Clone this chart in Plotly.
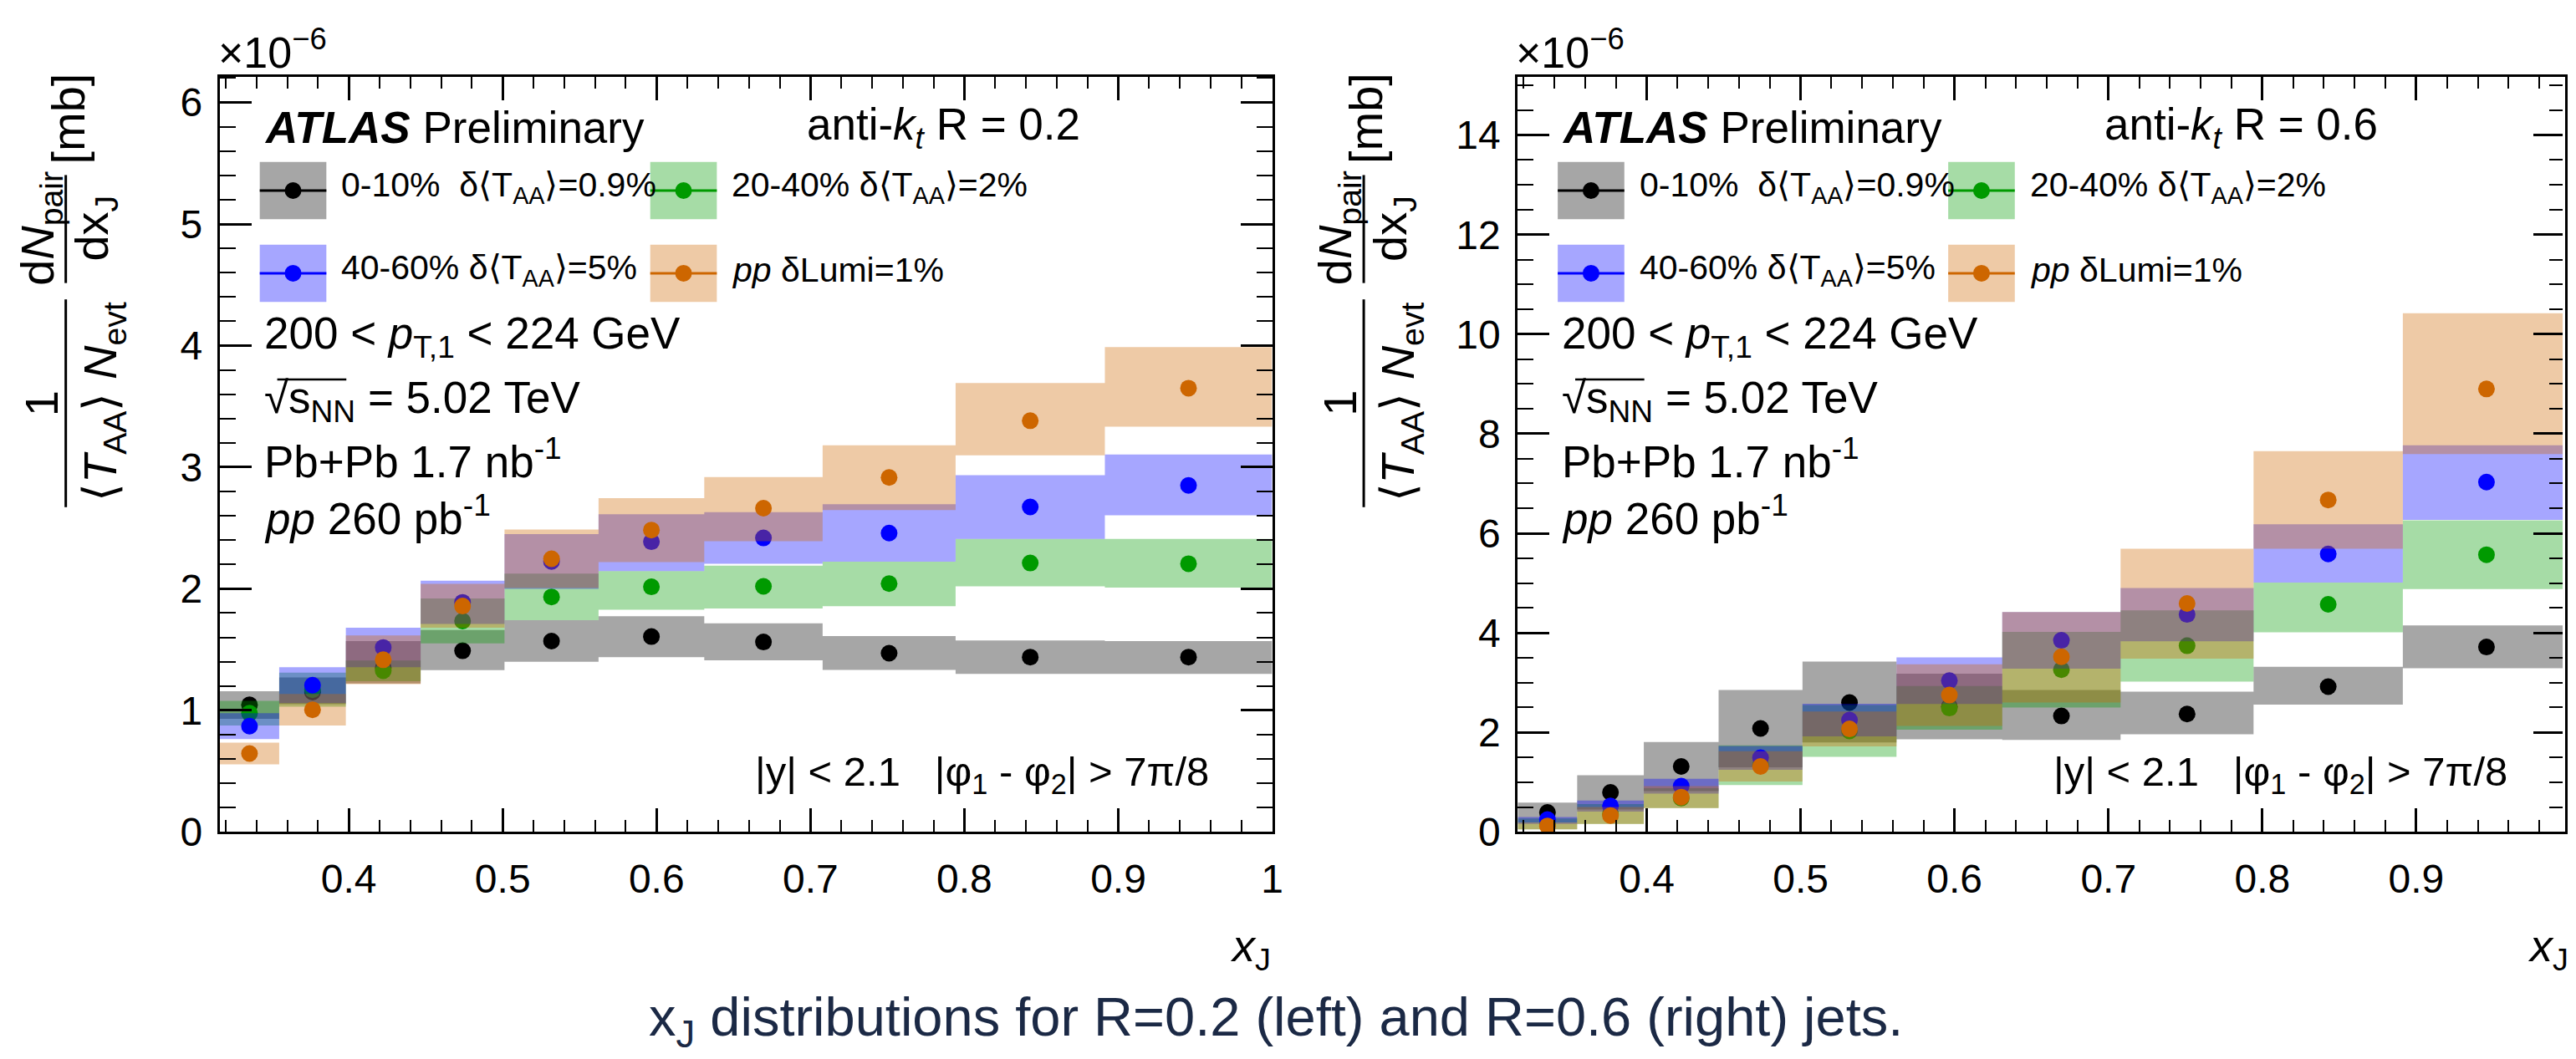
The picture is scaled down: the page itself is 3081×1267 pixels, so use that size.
import plotly.graph_objects as go

# ---------------- data (values in units of 1e-6 mb) ----------------
bin_edges = [0.3162, 0.3548, 0.3981, 0.4467, 0.5012, 0.5623, 0.6310, 0.7079, 0.7943, 0.8913, 1.0]

# R = 0.2 panel
r02_c0010 = [1.045, 1.15, 1.35, 1.49, 1.57, 1.607, 1.562, 1.47, 1.438, 1.438]
r02_c0010_lo = [0.93, 1.05, 1.22, 1.33, 1.40, 1.438, 1.412, 1.333, 1.30, 1.30]
r02_c0010_hi = [1.157, 1.27, 1.57, 1.66, 1.742, 1.775, 1.716, 1.611, 1.575, 1.569]
r02_c2040 = [0.977, 1.17, 1.326, 1.735, 1.933, 2.016, 2.02, 2.042, 2.212, 2.206]
r02_c2040_lo = [0.875, 1.03, 1.24, 1.551, 1.742, 1.827, 1.837, 1.856, 2.02, 2.01]
r02_c2040_hi = [1.079, 1.31, 1.41, 1.92, 2.124, 2.146, 2.19, 2.222, 2.41, 2.41]
r02_c4060 = [0.87, 1.207, 1.517, 1.888, 2.225, 2.387, 2.418, 2.458, 2.673, 2.85]
r02_c4060_lo = [0.764, 1.06, 1.355, 1.71, 2.0, 2.146, 2.206, 2.222, 2.41, 2.605]
r02_c4060_hi = [0.976, 1.355, 1.679, 2.067, 2.45, 2.613, 2.63, 2.696, 2.935, 3.105]
r02_pp = [0.645, 1.005, 1.416, 1.858, 2.247, 2.483, 2.663, 2.915, 3.382, 3.65]
r02_pp_lo = [0.555, 0.876, 1.216, 1.68, 2.006, 2.22, 2.392, 2.647, 3.098, 3.333]
r02_pp_hi = [0.735, 1.134, 1.616, 2.04, 2.488, 2.746, 2.918, 3.18, 3.693, 3.987]

# R = 0.6 panel
r06_c0010 = [0.39, 0.795, 1.315, 2.08, 2.6, 2.52, 2.33, 2.37, 2.92, 3.715]
r06_c0010_lo = [0.19, 0.45, 0.82, 1.30, 1.80, 1.86, 1.85, 1.96, 2.56, 3.29]
r06_c0010_hi = [0.59, 1.14, 1.808, 2.85, 3.425, 3.18, 2.85, 2.82, 3.32, 4.15]
r06_c2040 = [0.16, 0.36, 0.68, 1.34, 2.03, 2.49, 3.26, 3.74, 4.574, 5.57]
r06_c2040_lo = [0.05, 0.16, 0.48, 0.94, 1.507, 2.055, 2.5, 3.02, 4.01, 4.88]
r06_c2040_hi = [0.27, 0.56, 0.88, 1.74, 2.55, 2.93, 4.02, 4.45, 5.01, 6.26]
r06_c4060 = [0.247, 0.52, 0.92, 1.49, 2.247, 3.04, 3.85, 4.37, 5.585, 7.03]
r06_c4060_lo = [0.16, 0.41, 0.77, 1.25, 1.92, 2.57, 3.28, 3.83, 5.01, 6.27]
r06_c4060_hi = [0.30, 0.63, 1.068, 1.726, 2.575, 3.507, 4.42, 4.9, 6.18, 7.77]
r06_pp = [0.12, 0.33, 0.70, 1.315, 2.07, 2.75, 3.52, 4.59, 6.67, 8.90]
r06_pp_lo = [0.05, 0.16, 0.48, 1.014, 1.72, 2.13, 2.6, 3.48, 5.69, 7.59]
r06_pp_hi = [0.19, 0.50, 0.92, 1.62, 2.42, 3.37, 4.42, 5.69, 7.65, 10.42]

series_names = ["0-10%", "20-40%", "40-60%", "pp"]
x_ticks = [0.4, 0.5, 0.6, 0.7, 0.8, 0.9, 1.0]
x_ticktext = ["0.4", "0.5", "0.6", "0.7", "0.8", "0.9", "1"]

# ---------------- styles ----------------
FONT = "Liberation Sans, Arial, Helvetica, sans-serif"
COLORS = ["#000000", "#009a00", "#0000ff", "#cd6600"]
BANDS = ["rgba(0,0,0,0.35)", "rgba(0,154,0,0.35)", "rgba(0,0,255,0.35)", "rgba(205,102,0,0.35)"]
FW, FH = 3081, 1267
PX0 = [264, 1823]          # left frame edge of each panel (px)
PW = 1264                  # panel width (px)
PTOP, PBOT = 94, 1017      # frame top / bottom (px)

centers = [(bin_edges[i] + bin_edges[i + 1]) / 2 for i in range(len(bin_edges) - 1)]


def band_path(lo, hi):
    xs, ys = [], []
    for i in range(len(lo)):
        a, b = bin_edges[i], bin_edges[i + 1]
        xs += [a, b, b, a, a, None]
        ys += [lo[i], lo[i], hi[i], hi[i], lo[i], None]
    return xs, ys


fig = go.Figure()

panels = [
    ("x", "y", [(r02_c0010, r02_c0010_lo, r02_c0010_hi), (r02_c2040, r02_c2040_lo, r02_c2040_hi),
                (r02_c4060, r02_c4060_lo, r02_c4060_hi), (r02_pp, r02_pp_lo, r02_pp_hi)]),
    ("x2", "y2", [(r06_c0010, r06_c0010_lo, r06_c0010_hi), (r06_c2040, r06_c2040_lo, r06_c2040_hi),
                  (r06_c4060, r06_c4060_lo, r06_c4060_hi), (r06_pp, r06_pp_lo, r06_pp_hi)]),
]

for xa, ya, sers in panels:
    for k, (v, lo, hi) in enumerate(sers):
        bx, by = band_path(lo, hi)
        fig.add_trace(go.Scatter(x=bx, y=by, xaxis=xa, yaxis=ya, mode="lines", fill="toself",
                                 fillcolor=BANDS[k], line=dict(width=0), hoverinfo="skip",
                                 showlegend=False, name=series_names[k] + " syst"))
        fig.add_trace(go.Scatter(x=centers, y=v, xaxis=xa, yaxis=ya, mode="markers",
                                 marker=dict(size=20, color=COLORS[k], line=dict(width=0)),
                                 showlegend=False, name=series_names[k]))

# ---------------- axes ----------------
common_x = dict(ticks="inside", ticklen=28, tickwidth=2.5, tickcolor="black",
                showline=True, linewidth=3, linecolor="black", mirror="ticks",
                showgrid=False, zeroline=False, tickmode="array", tickvals=x_ticks,
                ticktext=x_ticktext, tickfont=dict(family=FONT, size=48, color="black"),
                ticklabelstandoff=12,
                minor=dict(ticks="inside", ticklen=14, tickwidth=2, tickcolor="black",
                           tickmode="linear", tick0=0, dtick=0.02, showgrid=False))
common_y = dict(ticks="inside", ticklen=38, tickwidth=2.5, tickcolor="black",
                showline=True, linewidth=3, linecolor="black", mirror="ticks",
                showgrid=False, zeroline=False,
                tickfont=dict(family=FONT, size=48, color="black"), ticklabelstandoff=8)

ydom = [1 - PBOT / FH, 1 - PTOP / FH]
right_xmax = bin_edges[0] + (FW - PX0[1]) / PW * (1.0 - bin_edges[0])

fig.update_layout(
    width=FW, height=FH, autosize=False,
    margin=dict(l=0, r=0, t=0, b=0),
    paper_bgcolor="white", plot_bgcolor="white",
    showlegend=False,
    xaxis=dict(domain=[PX0[0] / FW, (PX0[0] + PW) / FW], range=[bin_edges[0], 1.0], anchor="y", **common_x),
    yaxis=dict(domain=ydom, range=[0, 6.21], anchor="x", dtick=1, tick0=0,
               minor=dict(ticks="inside", ticklen=19, tickwidth=2, tickcolor="black", dtick=0.2, tick0=0),
               **common_y),
    xaxis2=dict(domain=[PX0[1] / FW, 1.0], range=[bin_edges[0], right_xmax], anchor="y2", **common_x),
    yaxis2=dict(domain=ydom, range=[0, 15.17], anchor="x2", dtick=2, tick0=0,
                minor=dict(ticks="inside", ticklen=19, tickwidth=2, tickcolor="black", dtick=0.5, tick0=0),
                **common_y),
)

# ---------------- decorations ----------------
ann = []
shapes = []


def X(px):
    return px / FW


def Y(py):
    return 1 - py / FH


def text(px, py, s, size, xanchor="left", yanchor="middle", angle=0, color="black"):
    ann.append(dict(x=X(px), y=Y(py), xref="paper", yref="paper", text=s, showarrow=False,
                    xanchor=xanchor, yanchor=yanchor, textangle=angle,
                    font=dict(family=FONT, size=size, color=color)))


def line(x0, y0, x1, y1, color="black", w=3):
    shapes.append(dict(type="line", xref="paper", yref="paper", x0=X(x0), y0=Y(y0), x1=X(x1), y1=Y(y1),
                       line=dict(color=color, width=w)))


legend_labels = ["0-10%\u00a0\u00a0δ⟨T<sub>AA</sub>⟩=0.9%", "20-40% δ⟨T<sub>AA</sub>⟩=2%",
                 "40-60% δ⟨T<sub>AA</sub>⟩=5%", "<i>pp</i> δLumi=1%"]
legend_pos = [(312, 198), (781, 198), (312, 299), (781, 299)]
jet_labels = ["anti-<i>k</i><sub><i>t</i></sub> R = 0.2", "anti-<i>k</i><sub><i>t</i></sub> R = 0.6"]

for p in range(2):
    o = PX0[p] - PX0[0]
    text(315 + o, 156, "<b><i>ATLAS</i></b> Preliminary", 53)
    text(967 + o, 156, jet_labels[p], 53)
    for k in range(4):
        bx, by = legend_pos[k]
        shapes.append(dict(type="rect", xref="paper", yref="paper", x0=X(bx + o), x1=X(bx + 80 + o),
                           y0=Y(by + 70), y1=Y(by), fillcolor=BANDS[k], line=dict(width=0)))
        line(bx + o, by + 35, bx + 80 + o, by + 35, COLORS[k], 3)
        shapes.append(dict(type="circle", xref="paper", yref="paper", xsizemode="pixel", ysizemode="pixel",
                           xanchor=X(bx + 40 + o), yanchor=Y(by + 35), x0=-10, x1=10, y0=-10, y1=10,
                           fillcolor=COLORS[k], line=dict(width=0)))
        text(bx + 96 + o, by + 31, legend_labels[k], 41)
    text(315 + o, 411, "200 &lt; <i>p</i><sub>T,1</sub> &lt; 224 GeV", 53)
    text(315 + o, 490, "√s<sub>NN</sub> = 5.02 TeV", 53)
    line(333 + o, 464, 416 + o, 464, "black", 2.5)
    text(315 + o, 560, "Pb+Pb 1.7 nb<sup>-1</sup>", 53)
    text(315 + o, 630, "<i>pp</i> 260 pb<sup>-1</sup>", 53)
    text(905 + o, 947, "|y| &lt; 2.1\u00a0\u00a0\u00a0|φ<sub>1</sub> - φ<sub>2</sub>| &gt; 7π/8", 49)
    # x-axis title
    text(1528 + o, 1160, "<i>x</i><sub>J</sub>", 54, xanchor="right")
    # exponent label
    text(260 + o, 60, "×10<sup>−6</sup>", 52)
    # y-axis title (ROOT style fractions)
    text(82 + o, 145, "[mb]", 56, xanchor="center", angle=-90)
    text(48 + o, 279, "d<i>N</i><sub>pair</sub>", 56, xanchor="center", angle=-90)
    line(79 + o, 214, 79 + o, 346)
    text(114 + o, 279, "dx<sub>J</sub>", 56, xanchor="center", angle=-90)
    text(50 + o, 493, "1", 56, xanchor="center", angle=-90)
    line(79 + o, 366, 79 + o, 620)
    text(124 + o, 491, "⟨<i>T</i><sub>AA</sub>⟩ <i>N</i><sub>evt</sub>", 56, xanchor="center", angle=-90)

# hide the cropped right frame line of the right panel (its ticks stay visible)
shapes.append(dict(type="rect", xref="paper", yref="paper", x0=X(3078), x1=1.0, y0=Y(PBOT - 2), y1=Y(PTOP + 2),
                   fillcolor="white", line=dict(width=0), layer="above"))

text(1532, 1248, "x<sub>J</sub> distributions for R=0.2 (left) and R=0.6 (right) jets.", 65,
     xanchor="center", color="#1b2945")

fig.update_layout(annotations=ann, shapes=shapes)
fig.write_html("out.html")
